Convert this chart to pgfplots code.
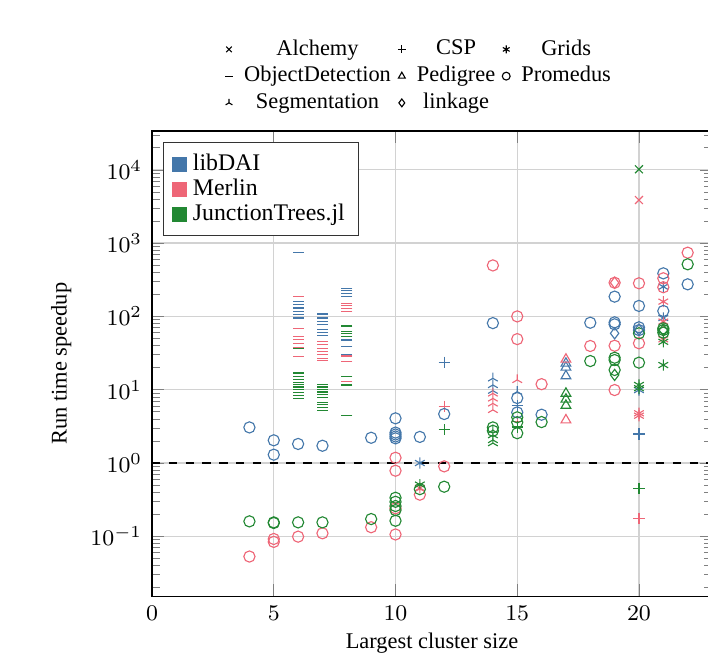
\documentclass[border=0pt]{standalone}
\usepackage{fontspec}
\setmainfont{Liberation Serif}
\usepackage{pgfplots}
\pgfplotsset{compat=1.18}
\usetikzlibrary{calc}
\definecolor{libc}{HTML}{4477AA}
\definecolor{merc}{HTML}{EE6677}
\definecolor{jtc}{HTML}{228833}
\pgfplotsset{
  lib/.style={color=libc, only marks, forget plot},
  mer/.style={color=merc, only marks, forget plot},
  jt/.style={color=jtc, only marks, forget plot},
}
\begin{document}
\begin{tikzpicture}
\begin{axis}[name=ax, scale only axis, width=200pt, height=166.1pt,
  xmin=0, xmax=23, ymode=log, ymin=0.0153, ymax=33800,
  xtick={0,5,10,15,20},
  grid=major, major grid style={gray!35, line width=0.5pt},
  xlabel={Largest cluster size}, ylabel={Run time speedup},
  xlabel style={yshift=2.5pt},
  tick label style={font=\footnotesize}, label style={font=\footnotesize},
  legend columns=3, legend cell align=center,
  legend style={draw=none, fill=none, at={(0.48,1.014)}, anchor=south, font=\footnotesize,
    row sep=-1.5pt,
    /tikz/every odd column/.append style={column sep=2pt},
    /tikz/every even column/.append style={column sep=0.5pt}},
  legend image code/.code={\draw[mark size=1.4pt,#1] plot coordinates {(0pt,0pt)};},
]
\addlegendimage{only marks, mark=x, black}\addlegendentry{Alchemy}
\addlegendimage{only marks, mark=+, black}\addlegendentry{CSP}
\addlegendimage{only marks, mark=asterisk, black}\addlegendentry{Grids}
\addlegendimage{only marks, mark=-, black}\addlegendentry{ObjectDetection}
\addlegendimage{only marks, mark=triangle, black}\addlegendentry{Pedigree}
\addlegendimage{only marks, mark=o, black}\addlegendentry{Promedus}
\addlegendimage{only marks, mark=Mercedes star, black}\addlegendentry{Segmentation}
\addlegendimage{only marks, mark=diamond, black}\addlegendentry{linkage}

\addplot[black, dashed, line width=0.6pt, forget plot] coordinates {(0,1) (23,1)};

% Alchemy
\addplot[mer, mark=x] coordinates {(20,3870)};
\addplot[jt, mark=x] coordinates {(20,10160)};
% CSP
\addplot[lib, mark=+] coordinates {(12,23.8) (15,6.1) (20,2.49)};
\addplot[mer, mark=+] coordinates {(12,5.93) (15,3.7) (20,0.176)};
\addplot[jt, mark=+] coordinates {(12,2.85) (15,3.1) (20,0.45)};
% Grids
\addplot[lib, mark=asterisk] coordinates {(11,1.0) (20,9.9) (21,254) (21,95)};
\addplot[mer, mark=asterisk] coordinates {(11,0.457) (20,4.77) (20,4.42) (21,159) (21,85) (21,48.7)};
\addplot[jt, mark=asterisk] coordinates {(11,0.507) (20,11.6) (20,10.5) (21,45) (21,21.7)};
% ObjectDetection
\addplot[lib, mark=-] coordinates {(6,746) (6,160) (6,144) (6,130) (6,117) (6,105) (6,95)
  (7,108) (7,95) (7,85.5) (7,77) (7,67) (7,60.5) (7,54.5)
  (8,242) (8,224) (8,207) (8,186) (8,47.6) (8,38.6) (8,29.7)};
\addplot[mer, mark=-] coordinates {(6,186) (6,68) (6,53) (6,48) (6,43) (6,38) (6,28.5)
  (7,45.6) (7,41.1) (7,37) (7,33.3) (7,30) (7,27) (7,25.1)
  (8,151) (8,139) (8,127) (8,116) (8,28.8) (8,24.1) (8,12.9)};
\addplot[jt, mark=-] coordinates {(6,37) (6,16.9) (6,15.2) (6,13.7) (6,12.6) (6,11.7) (6,10.9) (6,10) (6,9.2) (6,8.4) (6,7.5)
  (7,11.7) (7,10.9) (7,10) (7,9.3) (7,8.5) (7,7.9) (7,6.7) (7,6.2) (7,5.7) (7,5.2)
  (8,74) (8,63) (8,58.8) (8,52.9) (8,15.0) (8,11.6) (8,4.5)};
% Pedigree
\addplot[lib, mark=triangle] coordinates {(17,22.9) (17,20.2) (17,15.4)};
\addplot[mer, mark=triangle] coordinates {(17,26) (17,3.86)};
\addplot[jt, mark=triangle] coordinates {(17,8.9) (17,7.4) (17,6.1)};
% Promedus
\addplot[lib, mark=o] coordinates {(4,3.06) (5,2.04) (5,1.30) (6,1.82) (7,1.72) (9,2.21)
  (10,4.07) (10,2.6) (10,2.45) (10,2.3) (10,2.17) (11,2.27) (12,4.66) (14,81)
  (15,7.7) (15,4.9) (16,4.56) (18,82) (19,186) (19,83) (19,78) (20,139) (20,71) (20,65)
  (21,387) (21,118.5) (22,274)};
\addplot[mer, mark=o] coordinates {(4,0.053) (5,0.092) (5,0.084) (6,0.099) (7,0.11) (9,0.133)
  (10,1.18) (10,0.785) (10,0.241) (10,0.106) (11,0.37) (12,0.90) (14,496) (15,100) (15,49)
  (16,11.9) (18,39.5) (19,288) (19,39.8) (19,9.9) (20,283) (20,43) (21,331) (21,250) (22,740)};
\addplot[jt, mark=o] coordinates {(4,0.16) (5,0.155) (5,0.152) (6,0.155) (7,0.155) (9,0.172)
  (10,0.336) (10,0.296) (10,0.259) (10,0.228) (10,0.163) (11,0.44) (12,0.475)
  (14,3.06) (14,2.75) (15,4.2) (15,3.6) (15,2.55) (16,3.62) (18,24.6)
  (19,27.3) (19,25.4) (19,18.6) (20,58.8) (20,23.4) (21,68.8) (21,65.2) (21,60) (22,514)};
% Segmentation
\addplot[lib, mark=Mercedes star] coordinates {(14,14.3) (14,11.6) (14,9.7) (15,9.4)};
\addplot[mer, mark=Mercedes star] coordinates {(14,8.9) (14,7.6) (14,6.5) (14,5.3) (15,13.6)};
\addplot[jt, mark=Mercedes star] coordinates {(14,2.8) (14,2.4) (14,2.06) (14,1.87)};
% linkage
\addplot[lib, mark=diamond] coordinates {(19,58.8) (20,66)};
\addplot[mer, mark=diamond] coordinates {(19,288)};
\addplot[jt, mark=diamond] coordinates {(19,15.9) (21,65)};
\end{axis}
\begin{axis}[scale only axis, width=200pt, height=166.1pt, hide axis,
  xmin=0, xmax=1, ymin=0, ymax=1,
  legend cell align=left,
  legend style={at={(0.02,0.976)}, anchor=north west, font=\fontsize{8.5}{10}\selectfont,
    draw=black!80, row sep=-2.5pt},
  legend image code/.code={\fill[#1] (0pt,-2.7pt) rectangle (5.4pt,2.7pt);},
]
\addlegendimage{fill=libc, draw=none}\addlegendentry{libDAI}
\addlegendimage{fill=merc, draw=none}\addlegendentry{Merlin}
\addlegendimage{fill=jtc, draw=none}\addlegendentry{JunctionTrees.jl}
\end{axis}
\pgfresetboundingbox
\path[use as bounding box] ($(ax.south west)+(-54.3pt,-21.1pt)$) rectangle ($(ax.north east)+(-1.43pt,46.8pt)$);
\end{tikzpicture}
\end{document}
